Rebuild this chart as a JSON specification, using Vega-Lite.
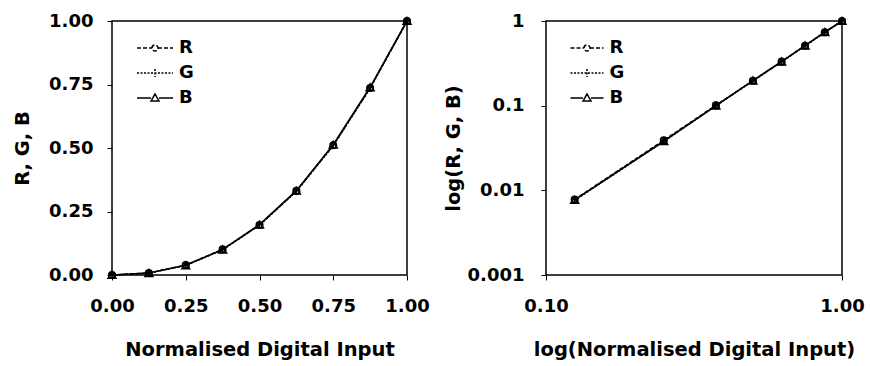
{
  "$schema": "https://vega.github.io/schema/vega-lite/v6.json",
  "background": "white",
  "padding": {"left": 11, "top": 11, "right": 5, "bottom": 5},
  "datasets": {
    "gamma": [
      {"x": 0, "series": "R", "y": 0},
      {"x": 0.125, "series": "R", "y": 0.0078},
      {"x": 0.25, "series": "R", "y": 0.039},
      {"x": 0.375, "series": "R", "y": 0.101},
      {"x": 0.5, "series": "R", "y": 0.197},
      {"x": 0.625, "series": "R", "y": 0.331},
      {"x": 0.75, "series": "R", "y": 0.511},
      {"x": 0.875, "series": "R", "y": 0.736},
      {"x": 1, "series": "R", "y": 1},
      {"x": 0, "series": "G", "y": 0},
      {"x": 0.125, "series": "G", "y": 0.0076},
      {"x": 0.25, "series": "G", "y": 0.038},
      {"x": 0.375, "series": "G", "y": 0.099},
      {"x": 0.5, "series": "G", "y": 0.196},
      {"x": 0.625, "series": "G", "y": 0.329},
      {"x": 0.75, "series": "G", "y": 0.509},
      {"x": 0.875, "series": "G", "y": 0.735},
      {"x": 1, "series": "G", "y": 1},
      {"x": 0, "series": "B", "y": 0},
      {"x": 0.125, "series": "B", "y": 0.0077},
      {"x": 0.25, "series": "B", "y": 0.038},
      {"x": 0.375, "series": "B", "y": 0.1},
      {"x": 0.5, "series": "B", "y": 0.198},
      {"x": 0.625, "series": "B", "y": 0.332},
      {"x": 0.75, "series": "B", "y": 0.513},
      {"x": 0.875, "series": "B", "y": 0.739},
      {"x": 1, "series": "B", "y": 1}
    ]
  },
  "config": {
    "font": "DejaVu Sans",
    "view": {"stroke": "black", "strokeWidth": 1.5},
    "axis": {
      "grid": false, "domain": false, "labelFlush": false, "labelOverlap": false,
      "tickColor": "black", "tickSize": 5, "tickWidth": 1,
      "labelFont": "DejaVu Sans", "labelFontWeight": "bold", "labelFontSize": 18, "labelColor": "black",
      "titleFont": "DejaVu Sans", "titleFontWeight": "bold", "titleFontSize": 19.5, "titleColor": "black"
    },
    "axisX": {"labelPadding": 17, "titlePadding": 25},
    "axisY": {"labelPadding": 14, "titlePadding": 16},
    "legend": {
      "orient": "none", "title": null, "padding": 0,
      "symbolSize": 100, "symbolStrokeColor": "black", "symbolFillColor": "transparent", "symbolStrokeWidth": 1.5, "symbolOpacity": 1,
      "labelFont": "DejaVu Sans", "labelFontWeight": "bold", "labelFontSize": 18, "labelColor": "black",
      "rowPadding": 7
    }
  },
  "bounds": "flush",
  "spacing": 139,
  "resolve": {
    "scale": {"x": "independent", "y": "independent", "shape": "independent", "strokeDash": "independent"},
    "legend": {"shape": "independent", "strokeDash": "independent"}
  },
  "hconcat": [
    {
      "width": 295, "height": 254,
      "data": {"name": "gamma"},
      "encoding": {
        "x": {"field": "x", "type": "quantitative", "title": "Normalised Digital Input",
              "scale": {"domain": [0, 1], "nice": false, "zero": false},
              "axis": {"values": [0, 0.25, 0.5, 0.75, 1], "format": ".2f"}},
        "y": {"field": "y", "type": "quantitative", "title": "R, G, B",
              "scale": {"domain": [0, 1], "nice": false, "zero": false},
              "axis": {"values": [0, 0.25, 0.5, 0.75, 1], "format": ".2f"}}
      },
      "layer": [
        {
          "mark": {"type": "point", "filled": false, "stroke": "black", "strokeWidth": 1.5, "opacity": 0},
          "encoding": {
            "shape": {"field": "series", "type": "nominal",
              "scale": {"domain": ["R", "G", "B"], "range": [
                "M-3.6,0H-0.6M0.6,0H3.6M-0.6,0A0.6,0.6 0 1 1 0.6,0A0.6,0.6 0 1 1 -0.6,0",
                "M-3.6,0H3.6M0,-0.8V0.8",
                "M-3.6,0H-0.8M0.8,0H3.6M-0.8,0.6L0,-0.8L0.8,0.6Z"]},
              "legend": {"legendX": 34, "legendY": 18, "labelOffset": 15, "symbolOpacity": 1}},
            "strokeDash": {"field": "series", "type": "nominal",
              "scale": {"domain": ["R", "G", "B"], "range": [[4, 2], [2, 1.5], [1, 0]]},
              "legend": {"legendX": 34, "legendY": 18, "labelOffset": 15, "symbolOpacity": 1}}
          }
        },
        {
          "transform": [{"filter": "datum.series === 'R'"}],
          "mark": {"type": "line", "stroke": "black", "strokeWidth": 1.5, "strokeDash": [4, 2]},
          "encoding": {}
        },
        {
          "transform": [{"filter": "datum.series === 'G'"}],
          "mark": {"type": "line", "stroke": "black", "strokeWidth": 1.5, "strokeDash": [2, 1.5]},
          "encoding": {}
        },
        {
          "transform": [{"filter": "datum.series === 'B'"}],
          "mark": {"type": "line", "stroke": "black", "strokeWidth": 1.6},
          "encoding": {}
        },
        {
          "transform": [{"filter": "datum.series === 'R'"}],
          "mark": {"type": "point", "shape": "circle", "filled": false, "stroke": "black", "strokeWidth": 1.8, "size": 40, "opacity": 1},
          "encoding": {}
        },
        {
          "transform": [{"filter": "datum.series === 'G'"}],
          "mark": {"type": "point", "shape": "M0,-1V1", "filled": false, "stroke": "black", "strokeWidth": 1.6, "size": 40, "opacity": 1},
          "encoding": {}
        },
        {
          "transform": [{"filter": "datum.series === 'B'"}],
          "mark": {"type": "point", "shape": "triangle-up", "filled": false, "stroke": "black", "strokeWidth": 1.8, "size": 55, "opacity": 1},
          "encoding": {}
        }
      ]
    },
    {
      "width": 296, "height": 254,
      "data": {"name": "gamma"},
      "transform": [{"filter": "datum.x > 0"}],
      "encoding": {
        "x": {"field": "x", "type": "quantitative", "title": "log(Normalised Digital Input)",
              "scale": {"type": "log", "domain": [0.1, 1], "nice": false},
              "axis": {"values": [0.1, 1], "format": ".2f"}},
        "y": {"field": "y", "type": "quantitative", "title": "log(R, G, B)",
              "scale": {"type": "log", "domain": [0.001, 1], "nice": false},
              "axis": {"values": [0.001, 0.01, 0.1, 1], "format": "~g", "labelPadding": 17, "titlePadding": 4}}
      },
      "layer": [
        {
          "mark": {"type": "point", "filled": false, "stroke": "black", "strokeWidth": 1.5, "opacity": 0},
          "encoding": {
            "shape": {"field": "series", "type": "nominal",
              "scale": {"domain": ["R", "G", "B"], "range": [
                "M-3.3,0H-0.6M0.6,0H3.3M-0.6,0A0.6,0.6 0 1 1 0.6,0A0.6,0.6 0 1 1 -0.6,0",
                "M-3.3,0H3.3M0,-0.8V0.8",
                "M-3.3,0H-0.8M0.8,0H3.3M-0.8,0.6L0,-0.8L0.8,0.6Z"]},
              "legend": {"legendX": 32, "legendY": 18, "labelOffset": 13.5, "symbolOpacity": 1}},
            "strokeDash": {"field": "series", "type": "nominal",
              "scale": {"domain": ["R", "G", "B"], "range": [[4, 2], [2, 1.5], [1, 0]]},
              "legend": {"legendX": 32, "legendY": 18, "labelOffset": 13.5, "symbolOpacity": 1}}
          }
        },
        {
          "transform": [{"filter": "datum.series === 'R'"}],
          "mark": {"type": "line", "stroke": "black", "strokeWidth": 1.5, "strokeDash": [4, 2]},
          "encoding": {}
        },
        {
          "transform": [{"filter": "datum.series === 'G'"}],
          "mark": {"type": "line", "stroke": "black", "strokeWidth": 1.5, "strokeDash": [2, 1.5]},
          "encoding": {}
        },
        {
          "transform": [{"filter": "datum.series === 'B'"}],
          "mark": {"type": "line", "stroke": "black", "strokeWidth": 1.6},
          "encoding": {}
        },
        {
          "transform": [{"filter": "datum.series === 'R'"}],
          "mark": {"type": "point", "shape": "circle", "filled": false, "stroke": "black", "strokeWidth": 1.8, "size": 40, "opacity": 1},
          "encoding": {}
        },
        {
          "transform": [{"filter": "datum.series === 'G'"}],
          "mark": {"type": "point", "shape": "M0,-1V1", "filled": false, "stroke": "black", "strokeWidth": 1.6, "size": 40, "opacity": 1},
          "encoding": {}
        },
        {
          "transform": [{"filter": "datum.series === 'B'"}],
          "mark": {"type": "point", "shape": "triangle-up", "filled": false, "stroke": "black", "strokeWidth": 1.8, "size": 55, "opacity": 1},
          "encoding": {}
        }
      ]
    }
  ]
}
